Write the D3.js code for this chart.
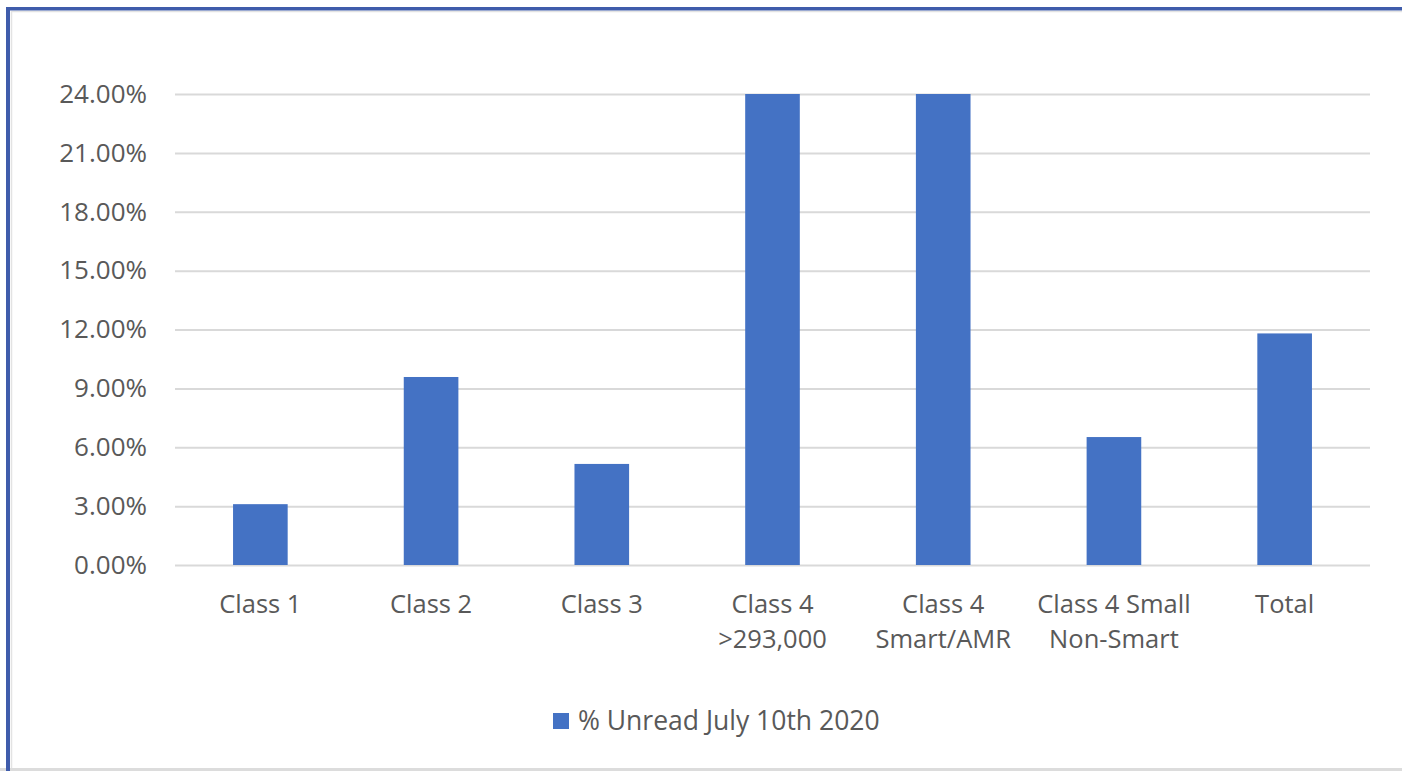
<!DOCTYPE html>
<html>
<head>
<meta charset="utf-8">
<script src="https://cdn.jsdelivr.net/npm/d3@7"></script>
<style>
  body { margin: 0; background: #fff; }
  text { font-family: "Open Sans", sans-serif; fill: #595959; }
  .grid line { stroke: #d9d9d9; stroke-width: 2; }
  .bar { fill: #4472c4; }
</style>
</head>
<body>
<div id="chart-area"></div>
<script>
const categories = [
  "Class 1",
  "Class 2",
  "Class 3",
  "Class 4\n>293,000",
  "Class 4\nSmart/AMR",
  "Class 4 Small\nNon-Smart",
  "Total"
];
const unread = [0.031, 0.0958, 0.0515, 0.24, 0.24, 0.0652, 0.118];
const yTicks = [0, 0.03, 0.06, 0.09, 0.12, 0.15, 0.18, 0.21, 0.24];
const seriesName = "% Unread July 10th 2020";

const chartSize = { width: 1402, height: 771 };
const plot = { left: 175, right: 1370, top: 94, bottom: 565 };

const svg = d3
  .select("#chart-area")
  .append("svg")
  .attr("width", chartSize.width)
  .attr("height", chartSize.height);

// frame: blue top/left edge, grey inner and bottom edge
svg.append("rect")
  .attr("x", 0).attr("y", 0)
  .attr("width", chartSize.width).attr("height", chartSize.height)
  .attr("fill", "#fff");
svg.append("line")
  .attr("x1", 11).attr("x2", chartSize.width).attr("y1", 11.5).attr("y2", 11.5)
  .attr("stroke", "#e3e3e3").attr("stroke-width", 1.5);
svg.append("line")
  .attr("x1", 11.5).attr("x2", 11.5).attr("y1", 11).attr("y2", chartSize.height)
  .attr("stroke", "#e3e3e3").attr("stroke-width", 1.5);
svg.append("line")
  .attr("x1", 0).attr("x2", chartSize.width).attr("y1", 769.5).attr("y2", 769.5)
  .attr("stroke", "#dcdcdc").attr("stroke-width", 3);
svg.append("line")
  .attr("x1", 6).attr("x2", chartSize.width).attr("y1", 8.8).attr("y2", 8.8)
  .attr("stroke", "#3f5cab").attr("stroke-width", 3.6);
svg.append("line")
  .attr("x1", 8).attr("x2", 8).attr("y1", 7).attr("y2", chartSize.height)
  .attr("stroke", "#3f5cab").attr("stroke-width", 4);

const x = d3
  .scaleBand()
  .domain(categories)
  .range([plot.left, plot.right])
  .paddingInner(0.68)
  .paddingOuter(0.34);

const y = d3
  .scaleLinear()
  .domain([0, 0.24])
  .range([plot.bottom, plot.top]);

const yAxis = d3.axisLeft(y)
  .tickValues(yTicks)
  .tickFormat(d3.format(".2%"))
  .tickSize(-(plot.right - plot.left))
  .tickPadding(28);

const gy = svg.append("g")
  .attr("class", "grid")
  .attr("transform", `translate(${plot.left},0)`)
  .call(yAxis);
gy.select(".domain").remove();
gy.selectAll("text")
  .style("font-size", "26px")
  .attr("fill", "#595959");

svg.append("g")
  .selectAll("rect")
  .data(unread)
  .join("rect")
  .attr("class", "bar")
  .attr("x", (d, i) => x(categories[i]))
  .attr("width", x.bandwidth())
  .attr("y", d => y(d))
  .attr("height", d => y(0) - y(d));

const xLabels = svg.append("g")
  .selectAll("text")
  .data(categories)
  .join("text")
  .attr("text-anchor", "middle")
  .style("font-size", "25.5px")
  .attr("transform", d => `translate(${x(d) + x.bandwidth() / 2},${plot.bottom + 48})`);
xLabels.selectAll("tspan")
  .data(d => d.split("\n"))
  .join("tspan")
  .attr("x", 0)
  .attr("dy", (d, i) => (i === 0 ? 0 : 35))
  .text(d => d);

const legend = svg.append("g").attr("transform", "translate(553,713)");
legend.append("rect")
  .attr("width", 16).attr("height", 16)
  .attr("fill", "#4472c4");
legend.append("text")
  .attr("x", 25).attr("y", 17)
  .style("font-size", "26.5px")
  .text(seriesName);
</script>
</body>
</html>
